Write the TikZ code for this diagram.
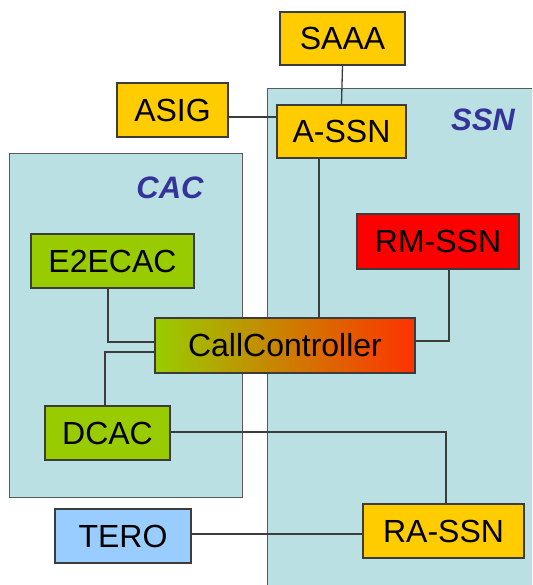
\documentclass[tikz,border=0pt]{standalone}
\usepackage{fontspec}
\setmainfont{Liberation Sans}
\definecolor{gold}{RGB}{255,204,0}
\definecolor{lgreen}{RGB}{153,204,0}
\definecolor{rmred}{RGB}{255,0,0}
\definecolor{teroblue}{RGB}{153,204,255}
\definecolor{regionfill}{RGB}{187,224,227}
\definecolor{edge}{RGB}{60,60,60}
\definecolor{labelblue}{RGB}{51,51,153}
\definecolor{ccmid}{RGB}{210,150,0}
\definecolor{ccred}{RGB}{255,50,0}
\tikzset{
  box/.style={draw=edge, line width=1.2pt, inner sep=0pt, font=\fontsize{32}{34}\selectfont, text=black},
  regionbox/.style={fill=regionfill, draw=edge!85, line width=1pt},
  conn/.style={draw=edge, line width=1.3pt},
  reglabel/.style={font=\fontsize{31}{33}\selectfont\bfseries\itshape, text=labelblue, inner sep=0pt}
}
\begin{document}
\begin{tikzpicture}[x=1pt,y=-1pt]
\clip (0,0) rectangle (532,585);
\fill[white] (0,0) rectangle (532,585);
% regions
\draw[regionbox] (9,154) rectangle (242,497);
\draw[regionbox] (267,89) rectangle (545,600);
\node[reglabel] (ssnlabel) at (483,120) {SSN};
\node[reglabel] (caclabel) at (170,188) {CAC};
% nodes
\node[box, fill=gold, minimum width=125pt, minimum height=53pt] (SAAA) at (342.5,38.5) {SAAA};
\node[box, fill=gold, minimum width=111pt, minimum height=54pt] (ASIG) at (172.5,110) {ASIG};
\node[box, fill=gold, minimum width=129pt, minimum height=53pt] (ASSN) at (341.5,131.5) {A-SSN};
\node[box, fill=rmred, minimum width=162pt, minimum height=55pt] (RMSSN) at (438,241.5) {RM-SSN};
\node[box, fill=lgreen, minimum width=163pt, minimum height=54pt] (E2ECAC) at (112.5,261) {E2ECAC};
\node[box, left color=lgreen, middle color=ccmid, right color=ccred, minimum width=260pt, minimum height=55pt] (CC) at (285,345.5) {CallController};
\node[box, fill=lgreen, minimum width=125pt, minimum height=54pt] (DCAC) at (107.5,433) {DCAC};
\node[box, fill=teroblue, minimum width=136pt, minimum height=54pt] (TERO) at (123,536) {TERO};
\node[box, fill=gold, minimum width=161pt, minimum height=54pt] (RASSN) at (443.5,531) {RA-SSN};
% connectors
\draw[conn] (SAAA.south) -- (ASSN.north);
\draw[conn] (ASIG.east |- 0,117) -- (ASSN.west |- 0,117);
\draw[conn] (ASSN.south -| 319,0) -- (CC.north -| 319,0);
\draw[conn] (RMSSN.south -| 449,0) -- (449,341) -- (CC.east |- 0,341);
\draw[conn] (E2ECAC.south -| 108,0) -- (108,342) -- (CC.west |- 0,342);
\draw[conn] (DCAC.north -| 105,0) -- (105,352) -- (CC.west |- 0,352);
\draw[conn] (DCAC.east |- 0,432) -- (446,432) -- (RASSN.north -| 446,0);
\draw[conn] (TERO.east |- 0,534) -- (RASSN.west |- 0,534);
\end{tikzpicture}
\end{document}
